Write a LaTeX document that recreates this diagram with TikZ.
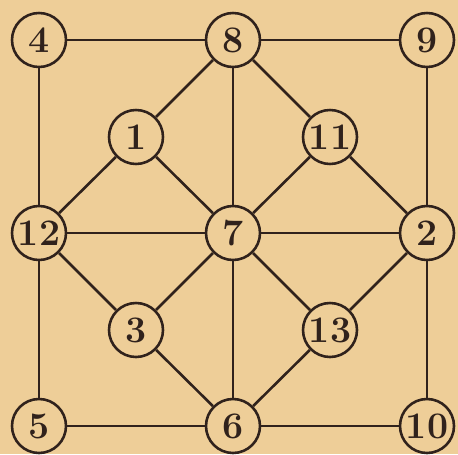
\documentclass[tikz,border=0pt]{standalone}
\usepackage{tikz}
\usetikzlibrary{positioning}

\definecolor{paper}{RGB}{238,206,152}
\definecolor{ink}{RGB}{48,34,28}

\begin{document}
\begin{tikzpicture}[x=0.03cm, y=-0.03cm]
\tikzset{
  num/.style={draw=ink, circle, line width=2.2pt, fill=paper, minimum size=1.62cm, inner sep=0pt, text=ink, font=\fontsize{32}{32}\selectfont\bfseries},
  edge/.style={draw=ink, line width=2.2pt}
}

% Background
\fill[paper] (0,0) rectangle (458,454);
\useasboundingbox (0,0) rectangle (458,454);

% Nodes
\node[num] (n4)  at (39,40)    {4};
\node[num] (n8)  at (233,40)   {8};
\node[num] (n9)  at (427,40)   {9};
\node[num] (n1)  at (136,137)  {1};
\node[num] (n11) at (330,137)  {11};
\node[num] (n12) at (39,233)   {12};
\node[num] (n7)  at (233,233)  {7};
\node[num] (n2)  at (427,233)  {2};
\node[num] (n3)  at (136,330)  {3};
\node[num] (n13) at (330,330)  {13};
\node[num] (n5)  at (39,426)   {5};
\node[num] (n6)  at (233,426)  {6};
\node[num] (n10) at (427,426)  {10};

% Edges
\draw[edge] (n4) -- (n8);
\draw[edge] (n8) -- (n9);
\draw[edge] (n5) -- (n6);
\draw[edge] (n6) -- (n10);
\draw[edge] (n4) -- (n12);
\draw[edge] (n12) -- (n5);
\draw[edge] (n9) -- (n2);
\draw[edge] (n2) -- (n10);
\draw[edge] (n8) -- (n7);
\draw[edge] (n7) -- (n6);
\draw[edge] (n12) -- (n7);
\draw[edge] (n7) -- (n2);
\draw[edge] (n8) -- (n1);
\draw[edge] (n1) -- (n12);
\draw[edge] (n8) -- (n11);
\draw[edge] (n11) -- (n2);
\draw[edge] (n12) -- (n3);
\draw[edge] (n3) -- (n6);
\draw[edge] (n2) -- (n13);
\draw[edge] (n13) -- (n6);
\draw[edge] (n1) -- (n7);
\draw[edge] (n7) -- (n13);
\draw[edge] (n11) -- (n7);
\draw[edge] (n7) -- (n3);
\end{tikzpicture}
\end{document}
